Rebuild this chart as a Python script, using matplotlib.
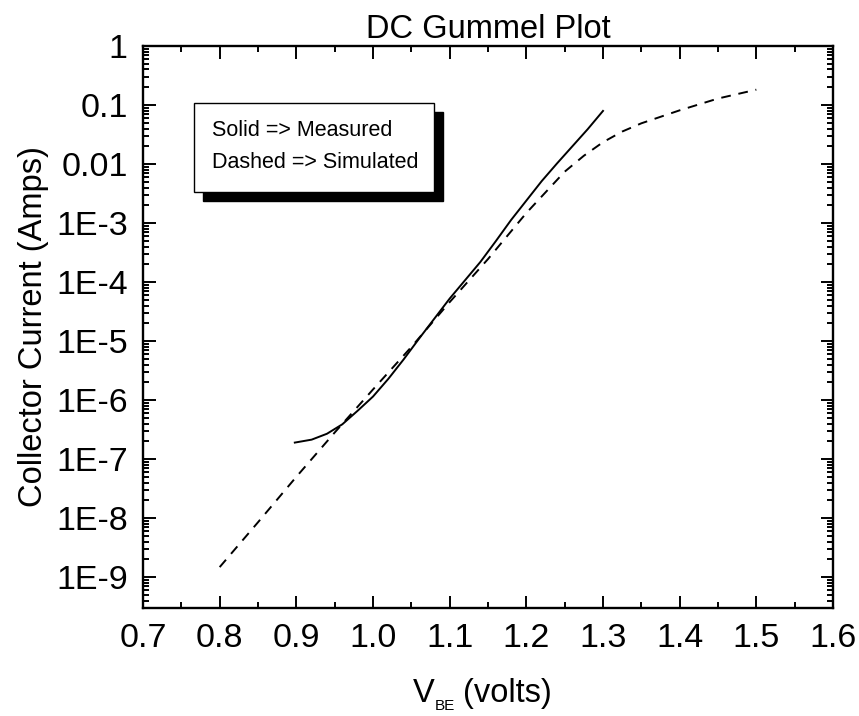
import matplotlib
matplotlib.use("Agg")
import matplotlib.pyplot as plt
from matplotlib.ticker import FixedLocator, FixedFormatter, LogLocator, MultipleLocator, NullFormatter
from matplotlib.patches import Rectangle
import numpy as np

plt.rcParams['font.family'] = ['Liberation Sans', 'DejaVu Sans']

# Measured (solid)
meas_v = [0.898, 0.92, 0.94, 0.96, 0.98, 1.00, 1.02, 1.04, 1.06, 1.08, 1.10,
          1.12, 1.14, 1.16, 1.18, 1.20, 1.22, 1.24, 1.26, 1.28, 1.30]
meas_log_i = [-6.72, -6.67, -6.57, -6.41, -6.18, -5.94, -5.64, -5.31, -4.96, -4.62, -4.28,
              -3.97, -3.66, -3.31, -2.95, -2.62, -2.29, -1.99, -1.70, -1.41, -1.10]

# Simulated (dashed)
sim_v = [0.80, 0.85, 0.90, 0.95, 1.00, 1.05, 1.10, 1.15, 1.20, 1.25, 1.275, 1.30,
         1.325, 1.35, 1.40, 1.45, 1.50]
sim_log_i = [-8.83, -8.07, -7.30, -6.55, -5.82, -5.10, -4.34, -3.61, -2.83, -2.13, -1.86, -1.63,
             -1.45, -1.31, -1.09, -0.89, -0.74]

x_ticks = [0.7, 0.8, 0.9, 1.0, 1.1, 1.2, 1.3, 1.4, 1.5, 1.6]
x_tick_labels = ['0.7', '0.8', '0.9', '1.0', '1.1', '1.2', '1.3', '1.4', '1.5', '1.6']
y_ticks = [1, 1e-1, 1e-2, 1e-3, 1e-4, 1e-5, 1e-6, 1e-7, 1e-8, 1e-9]
y_tick_labels = ['1', '0.1', '0.01', '1E-3', '1E-4', '1E-5', '1E-6', '1E-7', '1E-8', '1E-9']

W, H = 859, 716
fig = plt.figure(figsize=(W/100, H/100), dpi=100)
ax = fig.add_axes([143/W, 1-608/H, 690/W, 562/H])

ax.plot(meas_v, 10**np.array(meas_log_i), color='black', lw=1.4, ls='-')
ax.plot(sim_v, 10**np.array(sim_log_i), color='black', lw=1.4, ls=(0, (5, 4)))

ax.set_yscale('log')
ax.set_xlim(0.7, 1.6)
ax.set_ylim(3e-10, 1)

ax.xaxis.set_major_locator(FixedLocator(x_ticks))
ax.xaxis.set_major_formatter(FixedFormatter(x_tick_labels))
ax.xaxis.set_minor_locator(MultipleLocator(0.05))
ax.yaxis.set_major_locator(FixedLocator(y_ticks))
ax.yaxis.set_major_formatter(FixedFormatter(y_tick_labels))
ax.yaxis.set_minor_locator(LogLocator(base=10, subs=np.arange(2, 10), numticks=30))
ax.yaxis.set_minor_formatter(NullFormatter())

ax.tick_params(which='both', direction='in', top=True, right=True, width=1.4, colors='black')
ax.tick_params(which='major', length=9, labelsize=24.5)
ax.tick_params(which='minor', length=4.5)
ax.tick_params(axis='y', which='major', pad=11)
ax.tick_params(axis='x', which='major', pad=11)
for s in ax.spines.values():
    s.set_linewidth(1.7)

ax.set_title('DC Gummel Plot', fontsize=23.5, pad=6)
ax.set_ylabel('Collector Current (Amps)', fontsize=23.5, labelpad=5)

# x label built from pieces: V, subscript BE, (volts)
fig.text(413/W, 1-702/H, 'V', fontsize=23.5, ha='left', va='baseline')
fig.text(435/W, 1-710/H, 'BE', fontsize=11, ha='left', va='baseline')
fig.text(463/W, 1-702/H, '(volts)', fontsize=23.5, ha='left', va='baseline')

# annotation box with shadow
bx0, bx1 = (194-143)/690, (434-143)/690
by0, by1 = 1-(192-46)/562, 1-(103-46)/562
dx, dy = 9/690, 9/562
ax.add_patch(Rectangle((bx0+dx, by0-dy), bx1-bx0, by1-by0, transform=ax.transAxes,
                       facecolor='black', edgecolor='black', zorder=5))
ax.add_patch(Rectangle((bx0, by0), bx1-bx0, by1-by0, transform=ax.transAxes,
                       facecolor='white', edgecolor='black', lw=1.0, zorder=6))
ax.text((212-143)/690, 1-(130-46)/562, 'Solid => Measured', transform=ax.transAxes,
        fontsize=15.5, va='center', ha='left', zorder=7)
ax.text((212-143)/690, 1-(163-46)/562, 'Dashed => Simulated', transform=ax.transAxes,
        fontsize=15.5, va='center', ha='left', zorder=7)

fig.savefig('out.png', dpi=100)
